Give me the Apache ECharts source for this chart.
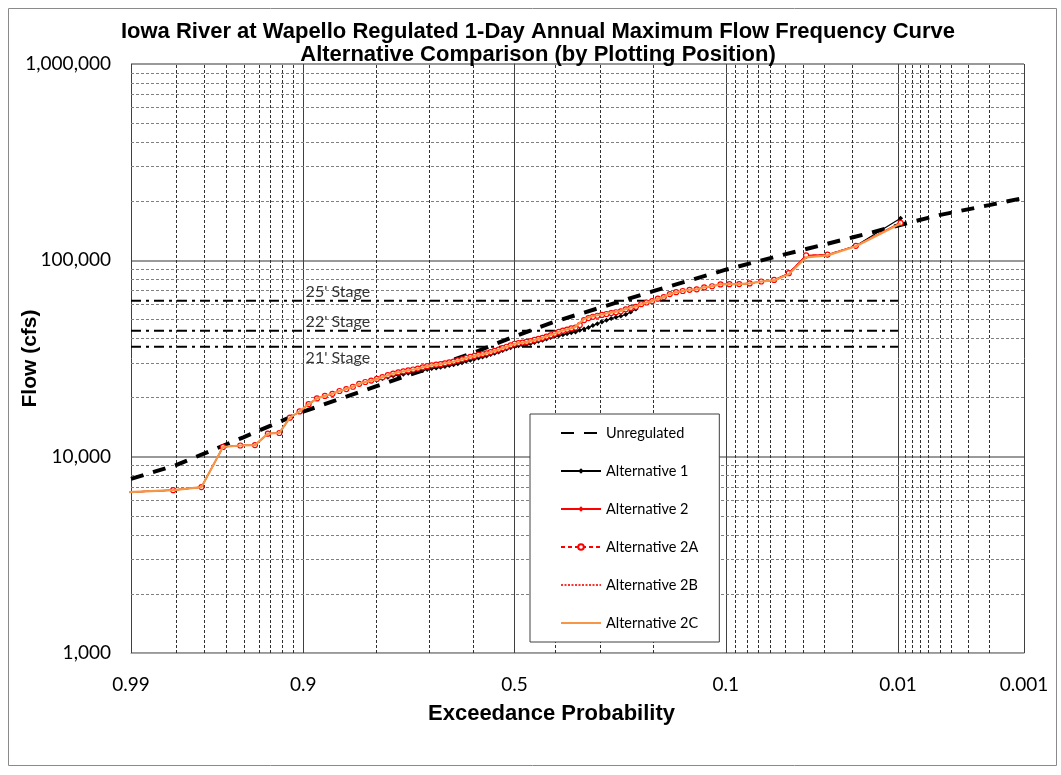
<!DOCTYPE html>
<html>
<head>
<meta charset="utf-8">
<script src="https://cdn.jsdelivr.net/npm/echarts@6/dist/echarts.min.js"></script>
<style>
  html, body { margin: 0; padding: 0; background: #fff; }
  #chart { width: 1061px; height: 775px; }
</style>
</head>
<body>
<div id="chart"></div>
<script>
// ---------------- DATA ----------------
// Weibull plotting positions (exceedance probability), rank 1..103
const exceedProb = [
  0.0096, 0.0192, 0.0288, 0.0385, 0.0481, 0.0577, 0.0673, 0.0769, 0.0865, 0.0962,
  0.1058, 0.1154, 0.1250, 0.1346, 0.1442, 0.1538, 0.1635, 0.1731, 0.1827, 0.1923,
  0.2019, 0.2115, 0.2212, 0.2308, 0.2404, 0.2500, 0.2596, 0.2692, 0.2788, 0.2885,
  0.2981, 0.3077, 0.3173, 0.3269, 0.3365, 0.3462, 0.3558, 0.3654, 0.3750, 0.3846,
  0.3942, 0.4038, 0.4135, 0.4231, 0.4327, 0.4423, 0.4519, 0.4615, 0.4712, 0.4808,
  0.4904, 0.5000, 0.5096, 0.5192, 0.5288, 0.5385, 0.5481, 0.5577, 0.5673, 0.5769,
  0.5865, 0.5962, 0.6058, 0.6154, 0.6250, 0.6346, 0.6442, 0.6538, 0.6635, 0.6731,
  0.6827, 0.6923, 0.7019, 0.7115, 0.7212, 0.7308, 0.7404, 0.7500, 0.7596, 0.7692,
  0.7788, 0.7885, 0.7981, 0.8077, 0.8173, 0.8269, 0.8365, 0.8462, 0.8558, 0.8654,
  0.8750, 0.8846, 0.8942, 0.9038, 0.9135, 0.9231, 0.9327, 0.9423, 0.9519, 0.9615,
  0.9712, 0.9808, 0.9904
];

const flowAlt1 = [
  164000, 118500, 106500, 104500, 86000, 79000, 78000, 76300, 75700, 75600,
  75400, 73800, 72800, 71200, 70800, 69800, 68800, 67300, 65000, 63800,
  62000, 61000, 59800, 56500, 54500, 53000, 52000, 51300, 50500, 49500,
  48500, 47500, 46500, 45500, 44700, 44000, 43200, 42800, 42300, 41800,
  41300, 41000, 40400, 39800, 39200, 38700, 38200, 37700, 37300, 37000,
  36700, 36400, 35900, 35300, 34700, 34100, 33600, 33100, 32600, 32200,
  31800, 31400, 31000, 30600, 30100, 29700, 29400, 29100, 28800, 28500,
  28300, 28100, 27800, 27500, 27200, 26900, 26600, 26300, 26000, 25800,
  25400, 25000, 24700, 24400, 24000, 23500, 22700, 22100, 21600, 20900,
  20400, 19800, 18500, 17000, 15800, 13200, 13100, 11450, 11400, 11200,
  7000, 6750, 6600
];

const flowAlt2 = [
  156000, 118500, 107000, 106000, 86000, 79500, 78000, 76300, 75700, 75600,
  75400, 73800, 72800, 71200, 70800, 69800, 68800, 67300, 65000, 63800,
  62000, 61000, 59800, 58000, 57200, 56300, 55000, 54400, 53900, 53300,
  52700, 52200, 51600, 50800, 49800, 47000, 45500, 45000, 44400, 43800,
  43200, 42300, 41500, 40900, 40300, 39800, 39300, 38800, 38400, 38100,
  37900, 37600, 36900, 36300, 35700, 35100, 34600, 34100, 33600, 33300,
  33000, 32600, 32200, 31800, 31300, 30900, 30500, 30200, 29900, 29600,
  29400, 29200, 28900, 28500, 28100, 27800, 27500, 27200, 26900, 26500,
  26000, 25400, 24900, 24400, 24000, 23500, 22700, 22100, 21600, 20900,
  20400, 19800, 18500, 17000, 15800, 13200, 13100, 11450, 11400, 11200,
  7000, 6750, 6600
];

const flowAlt2A = [
  155000, 118500, 107000, 106000, 86000, 79500, 78000, 76300, 75700, 75600,
  75400, 73800, 72800, 71200, 70800, 69800, 68800, 67300, 65000, 63800,
  62000, 61000, 59800, 58000, 57200, 56300, 55000, 54400, 53900, 53300,
  52700, 52200, 51600, 50800, 49600, 46800, 45500, 45000, 44400, 43800,
  43200, 42300, 41500, 40900, 40300, 39800, 39300, 38800, 38400, 38100,
  37900, 37600, 36900, 36300, 35700, 35100, 34600, 34100, 33600, 33300,
  33000, 32600, 32200, 31800, 31300, 30900, 30500, 30200, 29900, 29600,
  29400, 29200, 28900, 28500, 28100, 27800, 27500, 27200, 26900, 26500,
  26000, 25400, 24900, 24400, 24000, 23500, 22700, 22100, 21600, 20900,
  20400, 19800, 18500, 17000, 15800, 13200, 13100, 11450, 11400, 11200,
  7000, 6750, 6600
];

const flowAlt2B = [
  154500, 118200, 106200, 104000, 85200, 79000, 78000, 76300, 75700, 75600,
  75400, 73800, 72800, 71200, 70800, 69800, 68800, 67300, 65000, 63800,
  62000, 61000, 59800, 58200, 57500, 56500, 55300, 54700, 54200, 53600,
  53000, 52500, 52000, 51200, 50300, 48000, 45800, 45100, 44500, 43900,
  43300, 42400, 41600, 41000, 40300, 39800, 39300, 38800, 38400, 38100,
  37900, 37600, 36900, 36300, 35700, 35100, 34600, 34100, 33600, 33300,
  33000, 32600, 32200, 31800, 31300, 30900, 30500, 30200, 29900, 29600,
  29400, 29200, 28900, 28500, 28100, 27800, 27500, 27200, 26900, 26500,
  26000, 25400, 24900, 24400, 24000, 23500, 22700, 22100, 21600, 20900,
  20400, 19800, 18500, 17000, 15800, 13200, 13100, 11450, 11400, 11200,
  7000, 6750, 6600
];

const flowAlt2C = [
  154000, 118000, 106000, 103500, 85000, 79000, 78000, 76300, 75700, 75600,
  75400, 73800, 72800, 71200, 70800, 69800, 68800, 67300, 65000, 63800,
  62000, 61000, 59800, 58200, 57500, 56500, 55300, 54700, 54200, 53600,
  53000, 52500, 52000, 51200, 50300, 48000, 45800, 45100, 44500, 43900,
  43300, 42400, 41600, 41000, 40300, 39800, 39300, 38800, 38400, 38100,
  37900, 37600, 36900, 36300, 35700, 35100, 34600, 34100, 33600, 33300,
  33000, 32600, 32200, 31800, 31300, 30900, 30500, 30200, 29900, 29600,
  29400, 29200, 28900, 28500, 28100, 27800, 27500, 27200, 26900, 26500,
  26000, 25400, 24900, 24400, 24000, 23500, 22700, 22100, 21600, 20900,
  20400, 19800, 18500, 17000, 15800, 13200, 13100, 11450, 11400, 11200,
  7000, 6750, 6600
];

// Unregulated analytical frequency curve
const unregProb = [0.99, 0.98, 0.95, 0.9, 0.8, 0.7, 0.6, 0.5, 0.4, 0.3, 0.2, 0.1, 0.05, 0.02, 0.01, 0.005, 0.002, 0.001];
const unregFlow = [7700, 9050, 12550, 16950, 22800, 28100, 33700, 41000, 49000, 57600, 69700, 89600, 107500, 131000, 150500, 170000, 191000, 208000];

// Stage reference lines
const stageNames = ["25' Stage", "22' Stage", "21' Stage"];
const stageFlows = [62300, 43800, 36300];
const stageStartProb = 0.99;
const stageEndProb = 0.01;
const stageLabelProb = 0.858;

// Axes
const xTickProbs = [0.99, 0.9, 0.5, 0.1, 0.01, 0.001];
const xTickLabels = ['0.99', '0.9', '0.5', '0.1', '0.01', '0.001'];
const xMinorProbs = [0.98, 0.97, 0.96, 0.95, 0.94, 0.93, 0.92, 0.91, 0.8, 0.7, 0.6, 0.4, 0.3, 0.2,
  0.09, 0.08, 0.07, 0.06, 0.05, 0.04, 0.03, 0.02,
  0.009, 0.008, 0.007, 0.006, 0.005, 0.004, 0.003, 0.002];
const yMinorFlows = [2000, 3000, 4000, 5000, 6000, 7000, 8000, 9000,
  20000, 30000, 40000, 50000, 60000, 70000, 80000, 90000,
  200000, 300000, 400000, 500000, 600000, 700000, 800000, 900000];

const legendNames = ['Unregulated', 'Alternative 1', 'Alternative 2', 'Alternative 2A', 'Alternative 2B', 'Alternative 2C'];

// ---------------- PROBABILITY SCALE (normal quantile) ----------------
function normInv(p) {
  const a = [-3.969683028665376e+01, 2.209460984245205e+02, -2.759285104469687e+02, 1.383577518672690e+02, -3.066479806614716e+01, 2.506628277459239e+00];
  const b = [-5.447609879822406e+01, 1.615858368580409e+02, -1.556989798598866e+02, 6.680131188771972e+01, -1.328068155288572e+01];
  const c = [-7.784894002430293e-03, -3.223964580411365e-01, -2.400758277161838e+00, -2.549671348321396e+00, 4.374664141464968e+00, 2.938163982698783e+00];
  const d = [7.784695709041462e-03, 3.224671290700398e-01, 2.445134137142996e+00, 3.754408661907416e+00];
  const pLow = 0.02425, pHigh = 1 - pLow;
  let q, r;
  if (p < pLow) {
    q = Math.sqrt(-2 * Math.log(p));
    return (((((c[0]*q+c[1])*q+c[2])*q+c[3])*q+c[4])*q+c[5]) / ((((d[0]*q+d[1])*q+d[2])*q+d[3])*q+1);
  }
  if (p <= pHigh) {
    q = p - 0.5; r = q * q;
    return (((((a[0]*r+a[1])*r+a[2])*r+a[3])*r+a[4])*r+a[5])*q / (((((b[0]*r+b[1])*r+b[2])*r+b[3])*r+b[4])*r+1);
  }
  q = Math.sqrt(-2 * Math.log(1 - p));
  return -(((((c[0]*q+c[1])*q+c[2])*q+c[3])*q+c[4])*q+c[5]) / ((((d[0]*q+d[1])*q+d[2])*q+d[3])*q+1);
}
// exceedance probability -> standard normal deviate (left = frequent, right = rare)
function zOf(p) { return normInv(1 - p); }

function addCommas(v) {
  return String(Math.round(v)).replace(/\B(?=(\d{3})+(?!\d))/g, ',');
}

const xMin = zOf(xTickProbs[0]);
const xMax = zOf(xTickProbs[xTickProbs.length - 1]);
const xTickValues = xTickProbs.map(zOf);

function pairs(probs, flows) {
  return probs.map((p, i) => [zOf(p), flows[i]]);
}

const tickFont = 'Lato, "Open Sans", sans-serif';
const boldFont = '"Liberation Sans", Arial, sans-serif';

const chart = echarts.init(document.getElementById('chart'), null, { renderer: 'canvas' });

const gridSeries = {
  name: 'grid',
  type: 'line',
  data: [],
  silent: true,
  markLine: {
    silent: true,
    symbol: ['none', 'none'],
    z: 1,
    animation: false,
    label: { show: false },
    emphasis: { disabled: true },
    data: [
      ...yMinorFlows.map(v => ({ yAxis: v, lineStyle: { color: '#808080', width: 1, type: [3, 2] } })),
      ...xMinorProbs.map(p => ({ xAxis: zOf(p), lineStyle: { color: '#303030', width: 1, type: [3, 2] } }))
    ]
  }
};

const stageLineSeries = stageNames.map((nm, i) => ({
  name: nm,
  type: 'line',
  symbol: 'none',
  silent: true,
  z: 3,
  lineStyle: { color: '#000', width: 2, type: [10, 5, 3, 5] },
  data: [[zOf(stageStartProb), stageFlows[i]], [zOf(stageEndProb), stageFlows[i]]]
}));

const stageLabelSeries = {
  name: 'stageLabels',
  type: 'scatter',
  silent: true,
  symbolSize: 1,
  z: 3,
  itemStyle: { color: 'rgba(0,0,0,0)' },
  data: stageNames.map((nm, i) => ({
    name: nm,
    value: [zOf(stageLabelProb), stageFlows[i]],
    label: {
      show: true,
      formatter: nm,
      position: i === 2 ? 'bottom' : 'top',
      distance: i === 2 ? 3 : 0,
      color: '#000',
      fontFamily: tickFont,
      fontSize: 16
    }
  }))
};

const noSymbol = ['Unregulated', 'Alternative 2B', 'Alternative 2C'];

const option = {
  animation: false,
  backgroundColor: '#fff',
  title: {
    text: 'Iowa River at Wapello Regulated 1-Day Annual Maximum Flow Frequency Curve\nAlternative Comparison (by Plotting Position)',
    left: 538,
    top: 20,
    textAlign: 'center',
    padding: 0,
    textStyle: { fontFamily: boldFont, fontWeight: 'bold', fontSize: 22, lineHeight: 23, color: '#000' }
  },
  graphic: [{
    type: 'rect',
    shape: { x: 8.5, y: 8.5, width: 1048, height: 757 },
    style: { fill: 'none', stroke: '#8a8a8a', lineWidth: 1 },
    silent: true, z: -10
  }],
  grid: { left: 131, right: 37, top: 64, bottom: 122, outerBoundsMode: 'none', containLabel: false },
  legend: {
    orient: 'vertical',
    left: 530,
    top: 414,
    padding: [11, 21, 11, 30],
    itemWidth: 40,
    itemHeight: 7,
    itemGap: 22,
    borderColor: '#404040',
    borderWidth: 1,
    backgroundColor: '#fff',
    selectedMode: false,
    textStyle: { fontFamily: tickFont, fontSize: 14.5, lineHeight: 16, color: '#000' },
    data: legendNames.map(n => noSymbol.indexOf(n) >= 0
      ? { name: n, itemStyle: { opacity: 0, color: 'rgba(0,0,0,0)', borderColor: 'rgba(0,0,0,0)', borderWidth: 0 } }
      : { name: n })
  },
  xAxis: {
    type: 'value',
    min: xMin,
    max: xMax,
    name: 'Exceedance Probability',
    nameLocation: 'middle',
    nameGap: 50,
    nameMoveOverlap: false,
    nameTextStyle: { fontFamily: boldFont, fontWeight: 'bold', fontSize: 22, color: '#000', padding: [0, 52, 0, 0] },
    axisLine: { show: true, lineStyle: { color: '#a6a6a6', width: 1 } },
    axisTick: { show: false, customValues: xTickValues },
    axisLabel: {
      customValues: xTickValues,
      margin: 22,
      color: '#000',
      fontFamily: tickFont,
      fontSize: 19,
      formatter: function (v) {
        for (let i = 0; i < xTickValues.length; i++) {
          if (Math.abs(xTickValues[i] - v) < 1e-6) return xTickLabels[i];
        }
        return '';
      }
    },
    splitLine: { show: true, lineStyle: { color: '#404040', width: 1 } }
  },
  yAxis: {
    type: 'log',
    logBase: 10,
    min: 1000,
    max: 1000000,
    name: 'Flow (cfs)',
    nameLocation: 'middle',
    nameGap: 90,
    nameRotate: 90,
    nameMoveOverlap: false,
    nameTextStyle: { fontFamily: boldFont, fontWeight: 'bold', fontSize: 21, color: '#000' },
    axisLine: { show: true, lineStyle: { color: '#404040', width: 1 } },
    axisTick: { show: false },
    axisLabel: {
      margin: 20,
      color: '#000',
      fontFamily: tickFont,
      fontSize: 19,
      formatter: function (v) { return addCommas(v); }
    },
    splitLine: { show: true, lineStyle: { color: '#999999', width: 2 } }
  },
  series: [
    gridSeries,
    ...stageLineSeries,
    stageLabelSeries,
    {
      name: 'Unregulated',
      type: 'line',
      symbol: 'none',
      z: 4,
      lineStyle: { color: '#000', width: 4, type: [13, 10] },
      itemStyle: { color: '#000' },
      data: pairs(unregProb, unregFlow)
    },
    {
      name: 'Alternative 1',
      type: 'line',
      symbol: 'diamond',
      symbolSize: 5,
      z: 5,
      lineStyle: { color: '#000', width: 1.2 },
      itemStyle: { color: '#000' },
      data: pairs(exceedProb, flowAlt1)
    },
    {
      name: 'Alternative 2',
      type: 'line',
      symbol: 'diamond',
      symbolSize: 5,
      z: 6,
      lineStyle: { color: '#ff0000', width: 1.2 },
      itemStyle: { color: '#ff0000' },
      data: pairs(exceedProb, flowAlt2)
    },
    {
      name: 'Alternative 2A',
      type: 'line',
      symbol: 'circle',
      symbolSize: 5,
      z: 7,
      lineStyle: { color: '#ff0000', width: 1.2, type: [4, 3] },
      itemStyle: { color: '#ffffff', borderColor: '#ff0000', borderWidth: 1.2 },
      data: pairs(exceedProb, flowAlt2A)
    },
    {
      name: 'Alternative 2B',
      type: 'line',
      symbol: 'none',
      z: 8,
      lineStyle: { color: '#ff3030', width: 1, type: [2, 1.5] },
      itemStyle: { color: '#ff3030' },
      data: pairs(exceedProb, flowAlt2B)
    },
    {
      name: 'Alternative 2C',
      type: 'line',
      symbol: 'none',
      z: 9,
      lineStyle: { color: '#f79646', width: 2.2 },
      itemStyle: { color: '#f79646' },
      data: pairs(exceedProb, flowAlt2C)
    }
  ]
};

chart.setOption(option);
</script>
</body>
</html>
